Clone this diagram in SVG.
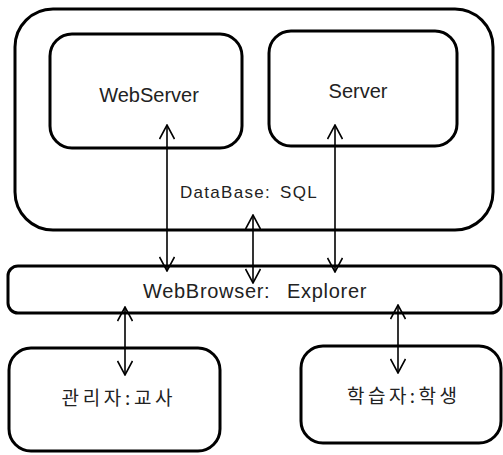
<svg xmlns="http://www.w3.org/2000/svg" width="503" height="455" viewBox="0 0 503 455">
  <style>
    .box { fill: #fff; stroke: #000; stroke-width: 3; }
    .lbl { font-family: "Liberation Sans", Arial, sans-serif; fill: #222; text-anchor: middle; }
    .lbs { font-family: "Liberation Sans", Arial, sans-serif; fill: #222; }
    .kr { font-family: "Noto Sans CJK KR", "Liberation Sans", sans-serif; fill: #222; text-anchor: middle; }
    .link { stroke: #000; stroke-width: 1.6; fill: none; marker-start: url(#head); marker-end: url(#head); }
  </style>
  <defs>
    <marker id="head" viewBox="0 0 16 16" refX="15" refY="8" markerWidth="16" markerHeight="16" markerUnits="userSpaceOnUse" orient="auto-start-reverse">
      <path d="M1,0.5 L15,8 L1,15.5" fill="none" stroke="#000" stroke-width="1.6"/>
    </marker>
  </defs>
  <rect width="503" height="455" fill="#fff"/>

  <!-- server side container -->
  <g id="system">
    <rect class="box" x="15" y="9" width="478" height="221" rx="38" ry="38" stroke-width="3.5"/>
  </g>
  <g id="webserver">
    <rect class="box" x="50" y="34" width="192" height="114" rx="22" ry="22"/>
    <text class="lbl" x="149" y="102" font-size="20">WebServer</text>
  </g>
  <g id="server">
    <rect class="box" x="269" y="31" width="188" height="115" rx="22" ry="22"/>
    <text class="lbl" x="358" y="98" font-size="20">Server</text>
  </g>
  <g id="database">
    <text class="lbs" y="198" font-size="17" letter-spacing="1.3"><tspan x="180">DataBase: </tspan><tspan x="280">SQL</tspan></text>
  </g>
  <g id="webbrowser">
    <rect class="box" x="8" y="266" width="493" height="47" rx="10" ry="10"/>
    <text class="lbs" y="298" font-size="20" letter-spacing="0.7"><tspan x="143">WebBrowser: </tspan><tspan x="287">Explorer</tspan></text>
  </g>
  <g id="teacher">
    <rect class="box" x="9" y="348" width="211" height="103" rx="22" ry="22"/>
    <text class="kr" x="117" y="405" font-size="19" textLength="111" lengthAdjust="spacing">관리자:교사</text>
  </g>
  <g id="student">
    <rect class="box" x="301" y="346" width="200" height="97" rx="22" ry="22"/>
    <text class="kr" x="402" y="403" font-size="19" textLength="110" lengthAdjust="spacing">학습자:학생</text>
  </g>

  <!-- connectors -->
  <g id="connectors">
    <path class="link" d="M167,125 L167,271"/>
    <path class="link" d="M335,125 L335,272"/>
    <path class="link" d="M253,215 L253,283"/>
    <path class="link" d="M125,307 L125,375"/>
    <path class="link" d="M398,305 L398,373"/>
  </g>
</svg>
